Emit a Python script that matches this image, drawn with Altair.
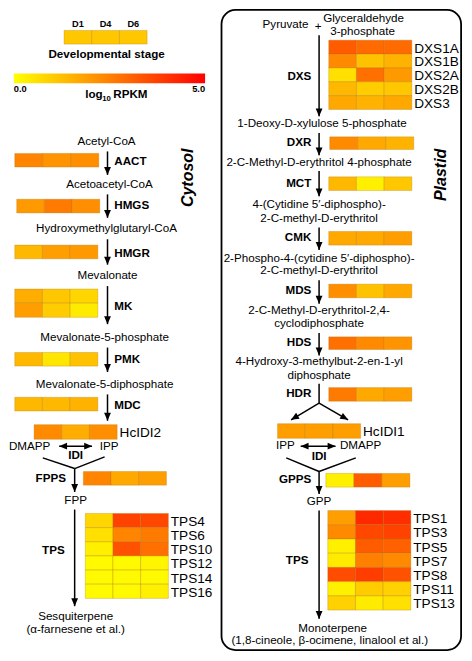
import math
import altair as alt
import pandas as pd

# ---------------- data (log10 RPKM) ----------------
STAGES = ["D1", "D4", "D6"]
STAGE_KEY = [1.1, 1.1, 1.1]

AACT = [2.4, 2.1, 2.2]
HMGS = [2.0, 2.6, 2.2]
HMGR = [1.4, 1.9, 2.0]
MK = [[1.6, 1.1, 0.8], [1.9, 1.0, 0.4]]
PMK = [1.4, 0.5, 1.2]
MDC = [1.4, 1.4, 1.5]
HCIDI2 = [2.3, 1.6, 2.2]
FPPS = [2.4, 1.7, 1.9]
TPS_SESQ_GENES = ["TPS4", "TPS6", "TPS10", "TPS12", "TPS14", "TPS16"]
TPS_SESQ = [[0.8, 3.7, 3.6], [0.6, 2.4, 2.6], [0.3, 3.4, 2.8],
            [0.1, 0.1, 0.2], [0.1, 0.1, 0.1], [0.1, 0.1, 0.3]]

DXS_GENES = ["DXS1A", "DXS1B", "DXS2A", "DXS2B", "DXS3"]
DXS = [[3.2, 2.9, 2.9], [2.3, 1.2, 1.5], [0.6, 2.8, 2.0], [1.4, 1.0, 1.1], [1.7, 1.5, 1.7]]
DXR = [2.3, 1.7, 1.5]
MCT = [1.4, 0.3, 1.1]
CMK = [1.7, 1.7, 1.9]
MDS = [2.2, 1.2, 1.7]
HDS = [2.8, 2.3, 2.1]
HDR = [2.6, 1.7, 1.9]
HCIDI1 = [1.9, 1.9, 1.9]
GPPS = [0.3, 3.2, 1.9]
TPS_MONO_GENES = ["TPS1", "TPS3", "TPS5", "TPS7", "TPS8", "TPS11", "TPS13"]
TPS_MONO = [[1.9, 4.2, 4.1], [2.3, 3.6, 3.7], [0.3, 3.2, 3.1], [0.4, 2.5, 2.3],
            [3.5, 3.8, 3.4], [0.3, 1.0, 0.9], [0.9, 0.4, 0.6]]

# ---------------- layout (reference pixel frame 472 x 661) ----------------
W, H = 472, 661
FS = 0.97
FONT = "Liberation Sans"

# name, rows, row labels, left, top, width, height
BLOCKS = [
    ("key", [STAGE_KEY], None, 58, 23, 86, 14),
    ("AACT", [AACT], None, 7, 149, 87, 14),
    ("HMGS", [HMGS], None, 9, 196, 86, 14),
    ("HMGR", [HMGR], None, 7, 243, 86, 14),
    ("MK", MK, None, 7, 288, 86, 29),
    ("PMK", [PMK], None, 7, 353, 86, 14),
    ("MDC", [MDC], None, 7, 399, 86, 14),
    ("HcIDI2", [HCIDI2], ["HcIDI2"], 27, 427, 86, 15),
    ("FPPS", [FPPS], None, 78, 475, 86, 14),
    ("TPSc", TPS_SESQ, TPS_SESQ_GENES, 80, 518, 86, 87),
    ("DXS", DXS, DXS_GENES, 332, 33, 86, 71),
    ("DXR", [DXR], None, 333, 132, 87, 13),
    ("MCT", [MCT], None, 332, 173, 86, 14),
    ("CMK", [CMK], None, 332, 229, 86, 14),
    ("MDS", [MDS], None, 332, 283, 86, 14),
    ("HDS", [HDS], None, 332, 337, 86, 13),
    ("HDR", [HDR], None, 332, 389, 86, 14),
    ("HcIDI1", [HCIDI1], ["HcIDI1"], 279, 426, 86, 15),
    ("GPPS", [GPPS], None, 329, 477, 87, 14),
    ("TPSp", TPS_MONO, TPS_MONO_GENES, 331, 515, 86, 102),
]

cells, gene_labels, stage_labels = [], [], []
for name, rows, labels, left, top, width, height in BLOCKS:
    cw, rh = width / 3, height / len(rows)
    for r, vals in enumerate(rows):
        for c, v in enumerate(vals):
            cells.append(dict(block=name, stage=STAGES[c], value=v,
                              x=left + c * cw, x2=left + (c + 1) * cw,
                              y=top + r * rh, y2=top + (r + 1) * rh))
        if labels:
            gene_labels.append(dict(text=labels[r], x=left + width + 2.5, y=top + (r + 0.5) * rh + 1.5))
    if name == "key":
        for c, s in enumerate(STAGES):
            stage_labels.append(dict(text=s, x=left + (c + 0.5) * cw, y=16))


def enc():
    return dict(
        x=alt.X("x:Q", scale=alt.Scale(domain=[0, W], nice=False, zero=False), axis=None),
        y=alt.Y("y:Q", scale=alt.Scale(domain=[0, H], nice=False, zero=False, reverse=True), axis=None),
    )


def text_layer(items, **props):
    df = pd.DataFrame(items, columns=["text", "x", "y"])
    base = dict(font=FONT, color="black", baseline="middle")
    base.update(props)
    return alt.Chart(df).mark_text(**base).encode(**enc(), text="text:N")


# ---------------- heatmap ----------------
color_scale = alt.Scale(domain=[0, 5], range=["#FFFF00", "#FF0000"], interpolate="rgb")
heat = alt.Chart(pd.DataFrame(cells)).mark_rect(
    stroke="#A86A00", strokeWidth=0.7, strokeOpacity=0.4
).encode(
    **enc(), x2="x2:Q", y2="y2:Q",
    color=alt.Color("value:Q", scale=color_scale, legend=alt.Legend(
        orient="none", legendX=6 * 456 / 472, legendY=67 * 645 / 661,
        direction="horizontal", gradientLength=198 * 456 / 472, gradientThickness=9.8,
        gradientStrokeWidth=0, title=None, values=[0, 5], format=".1f",
        labelAlign="center", labelFont=FONT, labelFontWeight="bold",
        labelFontSize=9.3, labelOffset=2, labelColor="black", padding=0)),
)

# ---------------- plastid box ----------------
box = alt.Chart(pd.DataFrame([dict(x=221, x2=469, y=2, y2=658)])).mark_rect(
    fillOpacity=0, stroke="black", strokeWidth=1.8, cornerRadius=14
).encode(**enc(), x2="x2:Q", y2="y2:Q")

# ---------------- arrows ----------------
# (x, y, x2, y2, head at end, head at start)
SEGMENTS = [
    (103, 147, 103, 171, True, False),
    (103, 191, 103, 215, True, False),
    (103, 237, 103, 263, True, False),
    (103, 285, 103, 324, True, False),
    (103, 348, 103, 373, True, False),
    (103, 396, 103, 423, True, False),
    (53, 449, 87, 449, True, True),
    (36, 461, 69, 472, False, False),
    (100, 460, 69, 472, False, False),
    (69, 472, 69, 496, True, False),
    (69, 514, 69, 613, True, False),
    (322, 28, 322, 111, True, False),
    (322, 128, 322, 151, True, False),
    (322, 167, 322, 193, True, False),
    (322, 225, 322, 248, True, False),
    (322, 279, 322, 303, True, False),
    (322, 333, 322, 356, True, False),
    (322, 385, 322, 405, False, False),
    (322, 405, 293, 422, True, False),
    (322, 405, 352, 422, True, False),
    (303, 449, 339, 449, True, True),
    (288, 461, 322, 475, False, False),
    (360, 461, 322, 475, False, False),
    (322, 475, 322, 498, True, False),
    (322, 515, 322, 626, True, False),
]
rules, heads = [], []
TIP = 4.0
for x1, y1, x2, y2, h_end, h_start in SEGMENTS:
    rules.append(dict(x=x1, y=y1, x2=x2, y2=y2))
    dx, dy = x2 - x1, y2 - y1
    L = math.hypot(dx, dy)
    ux, uy = dx / L, dy / L
    if h_end:
        ang = math.degrees(math.atan2(-ux, uy)) % 360
        heads.append(dict(x=x2 - TIP * ux, y=y2 - TIP * uy, angle=ang))
    if h_start:
        ang = math.degrees(math.atan2(ux, -uy)) % 360
        heads.append(dict(x=x1 + TIP * ux, y=y1 + TIP * uy, angle=ang))

rule_layer = alt.Chart(pd.DataFrame(rules)).mark_rule(color="black", strokeWidth=1.5).encode(
    **enc(), x2="x2:Q", y2="y2:Q")
head_layer = alt.Chart(pd.DataFrame(heads)).mark_point(
    shape="M-0.85,-1L0.85,-1L0,1Z", filled=True, size=64, color="black", opacity=1, strokeWidth=0
).encode(**enc(), angle=alt.Angle("angle:Q", scale=None))

# ---------------- texts ----------------
NORMAL_CENTER = [
    ("Acetyl-CoA", 102, 137), ("Acetoacetyl-CoA", 105, 181),
    ("Hydroxymethylglutaryl-CoA", 102, 226), ("Mevalonate", 103, 275),
    ("Mevalonate-5-phosphate", 100, 338), ("Mevalonate-5-diphosphate", 100, 386),
    ("FPP", 70, 505), ("Sesquiterpene", 70, 624), ("(α-farnesene et al.)", 70, 637),
    ("Glyceraldehyde", 368, 11), ("3-phosphate", 367, 25), ("+", 321, 19),
    ("1-Deoxy-D-xylulose 5-phosphate", 325, 119),
    ("2-C-Methyl-D-erythritol 4-phosphate", 322, 159),
    ("4-(Cytidine 5′-diphospho)-", 322, 202), ("2-C-methyl-D-erythritol", 322, 216),
    ("2-Phospho-4-(cytidine 5′-diphospho)-", 322, 257), ("2-C-methyl-D-erythritol", 322, 270),
    ("2-C-Methyl-D-erythritol-2,4-", 322, 311), ("cyclodiphosphate", 322, 324),
    ("4-Hydroxy-3-methylbut-2-en-1-yl", 322, 363), ("diphosphate", 322, 377),
    ("IPP", 287, 449), ("DMAPP", 365, 449), ("GPP", 322, 506),
    ("Monoterpene", 336, 636), ("(1,8-cineole, β-ocimene, linalool et al.)", 333, 649),
]
NORMAL_LEFT = [("DMAPP", 1, 450), ("IPP", 95, 450)]
NORMAL_RIGHT = [("Pyruvate", 311, 17)]
BOLD_LEFT = [("AACT", 110, 158), ("HMGS", 110, 203), ("HMGR", 110, 252),
             ("MK", 110, 306), ("PMK", 110, 361), ("MDC", 110, 408)]
BOLD_RIGHT = [("DXS", 314, 71), ("DXR", 314, 138), ("MCT", 314, 180), ("CMK", 314, 236),
              ("MDS", 314, 290), ("HDS", 314, 343), ("HDR", 314, 396), ("GPPS", 314, 484),
              ("TPS", 311, 567), ("FPPS", 60, 483)]
BOLD_CENTER = [("IDI", 70, 459), ("IDI", 322, 460), ("TPS", 47, 556),
               ("Developmental stage", 102, 48)]
ROTATED = [("Cytosol", 186, 174), ("Plastid", 448, 171)]

fs = 12 * FS
layers = [
    box, heat, rule_layer, head_layer,
    text_layer(NORMAL_CENTER, fontSize=fs, align="center"),
    text_layer(NORMAL_LEFT, fontSize=fs, align="left"),
    text_layer(NORMAL_RIGHT, fontSize=fs, align="right"),
    text_layer(BOLD_LEFT, fontSize=fs, align="left", fontWeight="bold"),
    text_layer(BOLD_RIGHT, fontSize=fs, align="right", fontWeight="bold"),
    text_layer(BOLD_CENTER, fontSize=fs, align="center", fontWeight="bold"),
    text_layer([(d["text"], d["x"], d["y"]) for d in stage_labels], fontSize=9.5 * FS,
               align="center", fontWeight="bold"),
    text_layer([(d["text"], d["x"], d["y"]) for d in gene_labels], fontSize=14 * FS, align="left"),
    text_layer(ROTATED, fontSize=16.5 * FS, align="center", fontWeight="bold",
               fontStyle="italic", angle=270),
    text_layer([("log", 80, 92), ("RPKM", 109, 92)], fontSize=fs, align="left",
               fontWeight="bold", baseline="alphabetic"),
    text_layer([("10", 97.5, 95.5)], fontSize=8 * FS, align="left",
               fontWeight="bold", baseline="alphabetic"),
]

chart = alt.layer(*layers).properties(
    width=456, height=645,
    autosize=alt.AutoSizeParams(type="none"),
    padding=0,
).configure_view(stroke=None)

chart.save("out.html", embed_options={"renderer": "svg", "actions": False})
